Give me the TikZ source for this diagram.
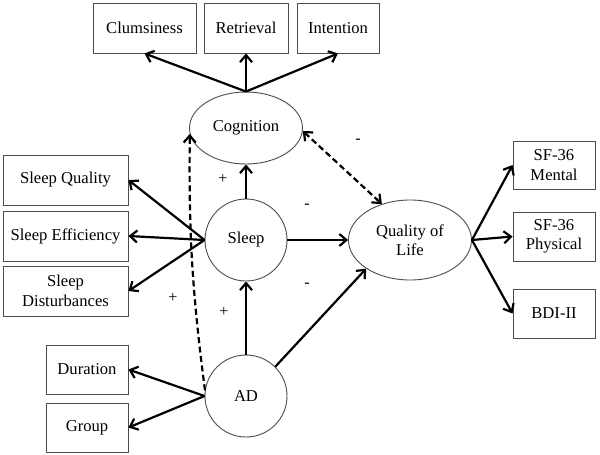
\documentclass[tikz,border=0pt]{standalone}
\usepackage{fontspec}
\setmainfont{Liberation Serif}
\usetikzlibrary{shapes.geometric,arrows.meta}
\begin{document}
\begin{tikzpicture}[x=1pt,y=-1pt,
  box/.style={draw=black!70,line width=0.9pt,rectangle,inner sep=0pt,align=center,font=\fontsize{16.6}{19.5}\selectfont},
  lat/.style={draw=black!70,line width=0.9pt,ellipse,inner sep=0pt,align=center,font=\fontsize{16.6}{19.5}\selectfont},
  circ/.style={draw=black!70,line width=0.9pt,circle,inner sep=0pt,minimum size=82pt,font=\fontsize{16.6}{19.5}\selectfont},
  arr/.style={line width=2.2pt,-{Straight Barb[length=7pt,width=12pt,line width=2.2pt]}},
  darr/.style={line width=2.2pt,dash pattern=on 6pt off 3.5pt,-{Straight Barb[length=7pt,width=12pt,line width=2.2pt]}},
  sign/.style={font=\fontsize{16}{16}\selectfont,inner sep=0pt}]
\useasboundingbox (0,0) rectangle (600,455);
% top boxes
\node[box,minimum width=103pt,minimum height=50pt] (clum) at (144.5,28) {Clumsiness};
\node[box,minimum width=84pt,minimum height=50pt] (ret) at (246,28) {Retrieval};
\node[box,minimum width=82pt,minimum height=50pt] (int) at (338,28) {Intention};
% left boxes
\node[box,minimum width=125pt,minimum height=50pt] (sq) at (65.5,180) {Sleep Quality};
\node[box,minimum width=125pt,minimum height=50pt] (se) at (65.5,236) {Sleep Efficiency};
\node[box,minimum width=125pt,minimum height=50pt] (sd) at (65.5,291) {Sleep\\Disturbances};
\node[box,minimum width=82pt,minimum height=49pt] (dur) at (87,369.5) {Duration};
\node[box,minimum width=82pt,minimum height=49pt] (grp) at (87,427.5) {Group};
% right boxes
\node[box,minimum width=82pt,minimum height=48pt] (men) at (554,165) {SF-36\\Mental};
\node[box,minimum width=82pt,minimum height=49pt] (phy) at (554,236.5) {SF-36\\Physical};
\node[box,minimum width=82pt,minimum height=49pt] (bdi) at (554,313.5) {BDI-II};
% latent
\node[lat,minimum width=113pt,minimum height=72pt] (cog) at (246,128) {Cognition};
\node[circ] (sleep) at (246,240) {Sleep};
\node[circ] (ad) at (246,396) {AD};
\node[lat,minimum width=123pt,minimum height=80pt] (qol) at (410,240) {Quality of\\Life};
% arrows
\draw[arr] (cog.north) -- (clum.south);
\draw[arr] (cog.north) -- (ret.south);
\draw[arr] (cog.north) -- (int.south);
\draw[arr] (sleep.west) -- (sq.east);
\draw[arr] (sleep.west) -- (se.east);
\draw[arr] (sleep.west) -- (sd.east);
\draw[arr] (ad.west) -- (dur.east);
\draw[arr] (ad.west) -- (grp.east);
\draw[arr] (qol.east) -- (men.west);
\draw[arr] (qol.east) -- (phy.west);
\draw[arr] (qol.east) -- (bdi.west);
\draw[arr] (sleep.north) -- (cog.south);
\draw[arr] (ad.north) -- (sleep.south);
\draw[arr] (sleep.east) -- (qol.west);
\draw[arr] (ad.45) -- (qol.south west);
\draw[darr,{Straight Barb[length=7pt,width=12pt,line width=2.2pt]}-{Straight Barb[length=7pt,width=12pt,line width=2.2pt]}] (cog.-3) -- (qol.128);
\draw[darr] (ad.172) to[bend left=4] (cog.186);
% signs
\node[sign] (p1) at (223,179) {+};
\node[sign] (p2) at (173,298) {+};
\node[sign] (p3) at (224,312) {+};
\node[sign] (m1) at (358,141) {-};
\node[sign] (m2) at (307,206) {-};
\node[sign] (m3) at (307,285) {-};
\end{tikzpicture}
\end{document}
